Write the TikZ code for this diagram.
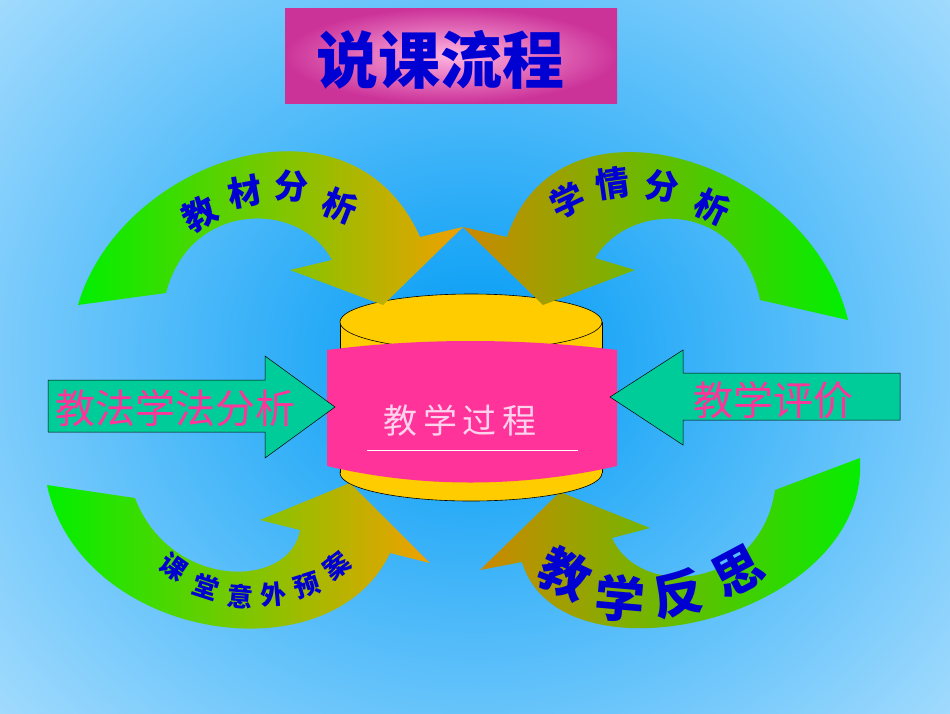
\documentclass[tikz,border=0pt]{standalone}
\usepackage{fontspec}
\setmainfont{Liberation Sans}
\newfontfamily\cjk{Noto Sans CJK SC}
\newfontfamily\cjkb{Noto Sans CJK SC Black}
\usetikzlibrary{shapes.geometric}
\definecolor{bgin}{RGB}{0,155,245}
\definecolor{bgout}{RGB}{190,230,255}
\definecolor{arrg}{RGB}{0,240,0}
\definecolor{arro}{RGB}{240,160,0}
\definecolor{teal}{RGB}{0,204,153}
\definecolor{hpink}{RGB}{255,51,153}
\definecolor{cyl}{RGB}{255,204,0}
\definecolor{tblue}{RGB}{0,0,210}
\definecolor{tmag}{RGB}{204,51,153}
\definecolor{tlight}{RGB}{255,180,225}
\begin{document}
\begin{tikzpicture}[x=1pt,y=-1pt,
  ch/.style={font=\cjkb\fontsize{34}{34}\selectfont, text=tblue, inner sep=0pt},
  chs/.style={font=\cjkb\fontsize{26}{26}\selectfont, text=tblue, inner sep=0pt},
  chbig/.style={font=\cjkb\fontsize{50}{50}\selectfont, text=tblue, inner sep=0pt},
  blockarr/.style={fill=teal, draw=black, line width=0.5pt},
  plabel/.style={font=\cjk\fontsize{40}{40}\selectfont, text=hpink, inner sep=0pt}]
\useasboundingbox (0,0) rectangle (950,713);
\begin{scope}
\clip (0,0) rectangle (950,713);
\shade[inner color=bgin, outer color=bgout] (-260,-300) rectangle (1210,1013);
\end{scope}
% title
\shade[inner color=tlight, outer color=tmag] (285,8) rectangle (617,103);
\node[font=\cjkb\fontsize{62}{62}\selectfont, text=tblue] (title) at (440,60) {说课流程};
% bottom curved arrows
\shade[left color=arrg, right color=arro] (47,485) .. controls (80,640) and (330,680) .. (390,553) -- (430,563) -- (350,483) -- (260,520) -- (300,530) .. controls (290,590) and (170,590) .. (135,498) -- cycle;
\shade[left color=arro!85!black, right color=arrg] (860,458) .. controls (870,620) and (560,690) .. (522,562) -- (480,570) -- (560,492) -- (650,528) -- (612,538) .. controls (640,600) and (760,590) .. (775,490) -- cycle;
% cylinder
\draw[black, line width=0.6pt, fill=cyl] (471,473) ellipse[x radius=131, y radius=28];
\fill[cyl] (340,322) rectangle (602,473);
\draw[black, line width=0.6pt] (340,322) -- (340,473) (602,322) -- (602,473);
\draw[black, line width=0.6pt, fill=cyl] (471,322) ellipse[x radius=131, y radius=28];
\fill[hpink] (327,350) .. controls (420,338) and (520,338) .. (617,350) -- (617,466) .. controls (520,488) and (420,488) .. (327,466) -- cycle;
\node[font=\cjk\fontsize{34}{34}\selectfont, text=tlight!60!white] (proc) at (460,420) {教\,学\,过\,程};
\draw[white, line width=1pt] (367,450) -- (578,450);
% top curved arrows
\shade[left color=arrg, right color=arro] (78,305) .. controls (120,160) and (350,80) .. (420,237) -- (463,227) -- (383,305) -- (290,270) -- (332,260) .. controls (300,200) and (190,200) .. (166,293) -- cycle;
\shade[left color=arro!85!black, right color=arrg] (848,320) .. controls (810,160) and (560,80) .. (507,237) -- (463,227) -- (543,305) -- (635,270) -- (595,258) .. controls (630,200) and (740,200) .. (760,300) -- cycle;
% block arrows
\draw[blockarr] (48,380) -- (265,380) -- (265,356) -- (335,407) -- (265,458) -- (265,432) -- (48,432) -- cycle;
\draw[blockarr] (900,373) -- (683,373) -- (683,350) -- (610,397) -- (683,445) -- (683,420) -- (900,420) -- cycle;
\node[plabel] (l1) at (175,408) {教法学法分析};
\node[plabel] (l2) at (773,400) {教学评价};
% curved texts
\node[ch, rotate=30] (a1) at (200,214) {教};
\node[ch, rotate=10] (a2) at (245,192) {材};
\node[ch, rotate=-5] (a3) at (292,186) {分};
\node[ch, rotate=-22] (a4) at (340,206) {析};
\node[ch, rotate=25] (b1) at (567,200) {学};
\node[ch, rotate=8] (b2) at (613,183) {情};
\node[ch, rotate=-8] (b3) at (662,186) {分};
\node[ch, rotate=-25] (b4) at (712,207) {析};
\node[chs, rotate=-35] (c1) at (174,567) {课};
\node[chs, rotate=-18] (c2) at (206,587) {堂};
\node[chs, rotate=-5] (c3) at (240,596) {意};
\node[chs, rotate=5] (c4) at (274,595) {外};
\node[chs, rotate=18] (c5) at (307,586) {预};
\node[chs, rotate=38] (c6) at (337,566) {案};
\node[chbig, rotate=-25] (d1) at (565,574) {教};
\node[chbig, rotate=-5] (d2) at (620,598) {学};
\node[chbig, rotate=10] (d3) at (678,594) {反};
\node[chbig, rotate=28] (d4) at (738,571) {思};
\end{tikzpicture}
\end{document}
